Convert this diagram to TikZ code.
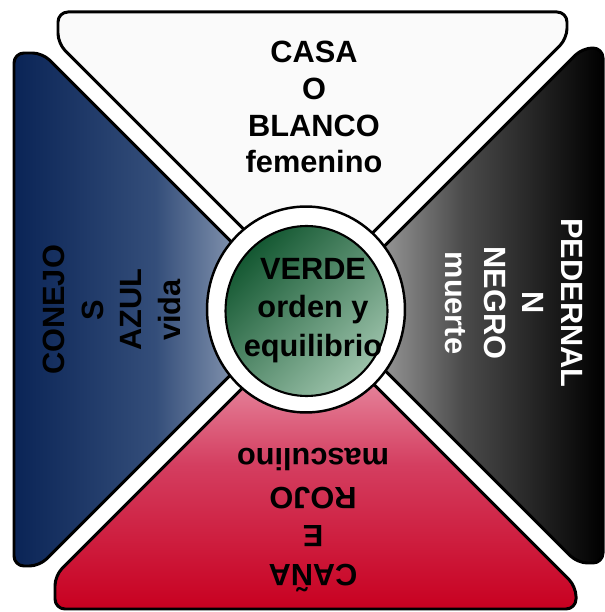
\documentclass[tikz,border=0pt]{standalone}
\usepackage{fontspec}
\setmainfont{Liberation Sans}
\usepackage{xcolor}
\definecolor{blanco}{RGB}{250,250,250}
\definecolor{azulA}{RGB}{10,36,86}
\definecolor{azulB}{RGB}{52,78,122}
\definecolor{azulC}{RGB}{190,200,214}
\definecolor{grisA}{RGB}{205,205,205}
\definecolor{grisB}{RGB}{75,75,75}
\definecolor{rosa}{RGB}{242,182,198}
\definecolor{rojoB}{RGB}{212,62,96}
\definecolor{rojoA}{RGB}{200,0,32}
\definecolor{verdeA}{RGB}{20,88,50}
\definecolor{verdeB}{RGB}{156,194,170}

\begin{document}
\begin{tikzpicture}[x=0.02cm,y=0.02cm,
  pieza/.style={draw=black,line width=1.7pt,rounded corners=0.2cm,line join=round},
  texto/.style={align=center,inner sep=0pt,font=\bfseries\fontsize{17.5}{22}\selectfont}]
\useasboundingbox (0,0) rectangle (605,612);
\fill[white] (0,0) rectangle (605,612);
% las cuatro piezas
\path[pieza,fill=blanco] (58,600) -- (567,600) -- (567,573.5) -- (310,316.5) -- (58,568.5) -- cycle;
\path[pieza,left color=azulA,right color=azulC,middle color=azulB] (14,559) -- (42.5,559) -- (297.5,304) -- (39.5,46) -- (14,46) -- cycle;
\path[pieza,left color=grisA,right color=black,middle color=grisB] (603,564) -- (582.5,564) -- (322.5,304) -- (577.5,49) -- (603,49) -- cycle;
\path[pieza,top color=rosa,bottom color=rojoA,middle color=rojoB] (55,3) -- (55,36.5) -- (310,291.5) -- (576,25.5) -- (576,3) -- cycle;
% centro
\coordinate (centro) at (306,302.5);
\draw[line width=1.4pt,fill=white] (centro) ellipse [x radius=1.98cm,y radius=2.06cm];
\path[draw=black,line width=1.2pt,top color=verdeA,bottom color=verdeB,shading angle=45] (306.5,301) ellipse [x radius=1.62cm,y radius=1.70cm];
% textos
\node[texto,font=\bfseries\fontsize{17.5}{21}\selectfont] (casa) at (314,505) {CASA\\O\\BLANCO\\femenino};
\node[texto,rotate=90] (conejo) at (112,302) {CONEJO\\S\\AZUL\\vida};
\node[texto,rotate=-90,text=white] (pedernal) at (514,309) {PEDERNAL\\N\\NEGRO\\muerte};
\node[texto,rotate=180] (cana) at (313,92) {CAÑA\\E\\ROJO\\masculino};
\node[texto] (verde) at (313,301.5) {VERDE\\orden y\\equilibrio};
\end{tikzpicture}
\end{document}
